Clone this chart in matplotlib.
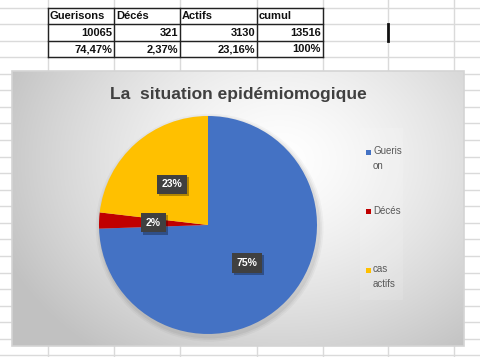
import numpy as np
import matplotlib
matplotlib.use("Agg")
import matplotlib.pyplot as plt
from matplotlib.patches import Rectangle
import matplotlib.patheffects as pe

# ---- data ----
headers = ["Guerisons", "Décés", "Actifs", "cumul"]
counts = [10065, 321, 3130, 13516]
pct_text = ["74,47%", "2,37%", "23,16%", "100%"]

pie_values = counts[:3]
pie_labels = ["75%", "2%", "23%"]
legend_labels = ["Gueris\non", "Décés", "cas\nactifs"]
pie_colors = ["#4472C4", "#C00000", "#FFC000"]
title = "La  situation epidémiomogique"

plt.rcParams['font.family'] = ['Liberation Sans', 'DejaVu Sans']

W, H = 480, 357
fig = plt.figure(figsize=(4.8, 3.57), dpi=100)
bg = fig.add_axes([0, 0, 1, 1])
bg.set_xlim(0, W)
bg.set_ylim(H, 0)
bg.axis("off")

# spreadsheet grid
col_x = [48, 114, 180, 257, 323, 388, 454]
row_y = [7.5 + 16.57 * i for i in range(22)]
for x in col_x:
    bg.plot([x, x], [0, H], color="#dadada", lw=1, zorder=0)
for y in row_y:
    bg.plot([0, W], [y, y], color="#dadada", lw=1, zorder=0)

# table
tx = col_x[:5]
ty = row_y[:4]
for x in tx:
    bg.plot([x, x], [ty[0], ty[-1]], color="#222222", lw=1, zorder=2)
for y in ty:
    bg.plot([tx[0], tx[-1]], [y, y], color="#222222", lw=1, zorder=2)
for i in range(4):
    bg.text(tx[i] + 2, (ty[0] + ty[1]) / 2 + 0.5, headers[i], fontsize=8,
            fontweight="bold", ha="left", va="center", color="#111111", zorder=3)
    bg.text(tx[i + 1] - 2, (ty[1] + ty[2]) / 2 + 0.5, str(counts[i]), fontsize=8,
            fontweight="bold", ha="right", va="center", color="#111111", zorder=3)
    bg.text(tx[i + 1] - 2, (ty[2] + ty[3]) / 2 + 0.5, pct_text[i], fontsize=8,
            fontweight="bold", ha="right", va="center", color="#111111", zorder=3)
# active cell marker
bg.plot([388, 388], [row_y[1], row_y[2]], color="#111111", lw=2, zorder=3)

# chart area with radial gradient
cx0, cy0, cx1, cy1 = 12, 71, 464, 346
gx = np.linspace(cx0, cx1, 300)
gy = np.linspace(cy0, cy1, 200)
GX, GY = np.meshgrid(gx, gy)
d = np.sqrt(((GX - 280) / 300) ** 2 + ((GY - 160) / 240) ** 2)
d = np.clip(d, 0, 1)
shade = 1.0 - 0.24 * d ** 1.4
img = np.dstack([shade, shade, shade])
bg.imshow(img, extent=[cx0, cx1, cy1, cy0], zorder=4, interpolation="bilinear", aspect="auto")
bg.add_patch(Rectangle((cx0, cy0), cx1 - cx0, cy1 - cy0, fill=False,
                       edgecolor="#d4d4d4", lw=1.2, zorder=5))
bg.set_xlim(0, W)
bg.set_ylim(H, 0)

# title
bg.text(238, 94, title, fontsize=12.5, fontweight="bold", color="#404040",
        ha="center", va="center", zorder=6)

# legend box
bg.add_patch(Rectangle((360, 128), 43, 172, facecolor="#ffffff", alpha=0.12,
                       edgecolor="none", zorder=5))
leg_y = [152, 211, 270]
for i in range(3):
    bg.add_patch(Rectangle((365.5, leg_y[i] - 2.5), 5, 5, facecolor=pie_colors[i],
                           edgecolor="none", zorder=6))
    bg.text(373, leg_y[i] - 5.5, legend_labels[i], fontsize=7, color="#595959",
            ha="left", va="top", linespacing=1.55, zorder=6)

# pie
pcx, pcy, r = 208, 225, 109
axp = fig.add_axes([(pcx - r) / W, (H - pcy - r) / H, 2 * r / W, 2 * r / H])
axp.set_zorder(10)
# soft shadow
for k, a in enumerate([0.05, 0.04, 0.03]):
    c = plt.Circle((0.015, -0.025), 1.0 + 0.015 * (k + 1), color="black",
                   alpha=a, lw=0, zorder=0)
    c.set_clip_on(False)
    axp.add_patch(c)
wedges, _ = axp.pie(pie_values, colors=pie_colors, startangle=90, counterclock=False,
                    radius=1.0, wedgeprops=dict(linewidth=0))
for w, lab in zip(wedges, pie_labels):
    ang = np.deg2rad((w.theta1 + w.theta2) / 2)
    x, y = 0.5 * np.cos(ang), 0.5 * np.sin(ang)
    t = axp.text(x, y, lab, fontsize=7.5, fontweight="bold", color="white",
                 ha="center", va="center",
                 bbox=dict(boxstyle="square,pad=0.45", fc="#404040", ec="none"))
    t.get_bbox_patch().set_path_effects(
        [pe.SimplePatchShadow(offset=(1.5, -1.5), shadow_rgbFace="black", alpha=0.3),
         pe.Normal()])
axp.set_xlim(-1, 1)
axp.set_ylim(-1, 1)
axp.set_aspect("equal")
axp.axis("off")
axp.patch.set_alpha(0)

fig.savefig("out.png", dpi=100)
